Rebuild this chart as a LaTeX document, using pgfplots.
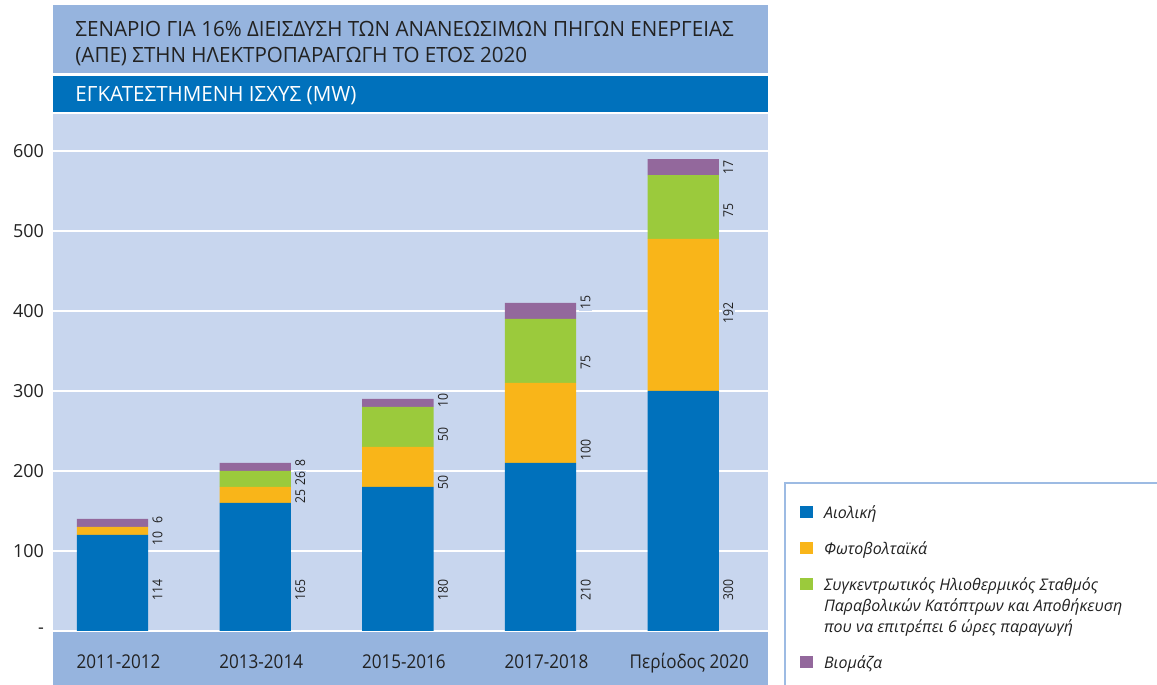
\documentclass[border=0pt]{standalone}
\usepackage{fontspec}
\setmainfont{Open Sans}
\newfontfamily\condfont{Open Sans}[FakeStretch=0.9]
\newfontfamily\titlefont{Open Sans}[FakeStretch=0.98]
\usepackage{pgfplots}
\pgfplotsset{compat=1.18}
\definecolor{cblue}{HTML}{0071BC}
\definecolor{corange}{HTML}{F9B519}
\definecolor{cgreen}{HTML}{9BCA3C}
\definecolor{cpurple}{HTML}{93689C}
\definecolor{plotbg}{HTML}{C8D6EE}
\definecolor{bandbg}{HTML}{96B4DE}
\definecolor{legline}{HTML}{9DBBE3}
\definecolor{txt}{HTML}{222222}
\pgfplotsset{sqlegend/.style={legend image code/.code={\fill[##1] (0pt,0pt) rectangle (6.5pt,6pt);}}}
\begin{document}
\begin{tikzpicture}[x=0.5pt,y=0.5pt]
\fill[white] (0,0) rectangle (1157,685);
\path[use as bounding box] (0,0) rectangle (1157,685);
% title boxes
\fill[bandbg] (53,612) rectangle (768,680);
\fill[cblue] (53,573) rectangle (768,609);
\node[anchor=base west, inner sep=0pt, text=txt] at (75,648) {\titlefont\fontsize{10.5}{12}\selectfont ΣΕΝΑΡΙΟ ΓΙΑ 16\% ΔΙΕΙΣΔΥΣΗ ΤΩΝ ΑΝΑΝΕΩΣΙΜΩΝ ΠΗΓΩΝ ΕΝΕΡΓΕΙΑΣ};
\node[anchor=base west, inner sep=0pt, text=txt] at (75,622) {\titlefont\fontsize{10.5}{12}\selectfont (ΑΠΕ) ΣΤΗΝ ΗΛΕΚΤΡΟΠΑΡΑΓΩΓΗ ΤΟ ΕΤΟΣ 2020};
\node[anchor=base west, inner sep=0pt, text=white] at (75,583) {\titlefont\fontsize{10.5}{12}\selectfont ΕΓΚΑΤΕΣΤΗΜΕΝΗ ΙΣΧΥΣ (MW)};
% category band
\fill[bandbg] (53,0) rectangle (768,54);
\begin{axis}[
  at={(26.5pt,27pt)}, anchor=south west,
  width=357.5pt, height=258.5pt, scale only axis,
  xmin=-0.417, xmax=4.594, ymin=0, ymax=646.25,
  ybar stacked, bar width=0.5,
  sqlegend,
  axis background/.style={fill=plotbg},
  axis line style={draw=none},
  major tick length=0pt,
  ymajorgrids, grid style={white, line width=1pt},
  ytick={0,100,...,600}, yticklabels={-,100,200,300,400,500,600},
  xtick={0,1,2,3,4},
  xticklabels={2011-2012,2013-2014,2015-2016,2017-2018,Περίοδος 2020},
  /pgf/number format/assume math mode=true,
  yticklabel style={font=\fontsize{9}{10}\selectfont, text=txt, xshift=-1pt},
  xticklabel style={font=\condfont\fontsize{9.5}{11}\selectfont, text=txt, anchor=base, yshift=-19pt, xshift=3pt},
  legend cell align=left,
  legend style={at={(1.0448,0.247)}, anchor=north west, draw=none, fill=none,
    inner sep=0pt, outer sep=0pt, row sep=7.5pt,
    font=\fontsize{8}{10.5}\selectfont\itshape, text=txt,
    cells={anchor=base west}, nodes={inner sep=0pt, anchor=base west, text height=7.35pt, text depth=3.15pt},
    /tikz/every odd column/.append style={column sep=5.5pt}},
]
\addplot[fill=cblue, draw=none, sqlegend] coordinates {(0,120) (1,160) (2,180) (3,210) (4,300)};
\addlegendentry{Αιολική}
\addplot[fill=corange, draw=none, sqlegend] coordinates {(0,10) (1,20) (2,50) (3,100) (4,190)};
\addlegendentry{Φωτοβολταϊκά}
\addplot[fill=cgreen, draw=none, sqlegend] coordinates {(0,0) (1,20) (2,50) (3,80) (4,80)};
\addlegendentry[text depth=24.15pt]{\begin{tabular}[t]{@{}l@{}}Συγκεντρωτικός Ηλιοθερμικός Σταθμός\\Παραβολικών Κατόπτρων και Αποθήκευση\\που να επιτρέπει 6 ώρες παραγωγή\end{tabular}}
\addplot[fill=cpurple, draw=none, sqlegend] coordinates {(0,10) (1,10) (2,10) (3,20) (4,20)};
\addlegendentry{Βιομάζα}
\end{axis}
\begin{axis}[
  at={(26.5pt,27pt)}, anchor=south west,
  width=357.5pt, height=258.5pt, scale only axis,
  xmin=-0.417, xmax=4.594, ymin=0, ymax=646.25,
  hide axis, clip=false,
]
\addplot[draw=none, mark=none, nodes near coords, point meta=explicit symbolic,
  nodes near coords style={rotate=90, anchor=north, font=\condfont\fontsize{6.8}{8}\selectfont,
    fill=plotbg, inner sep=0.6pt, text=txt}]
  table[meta=lab] {
x y lab
0.27 51 114
0.27 116 10
0.27 139 6
1.27 51 165
1.27 168 25
1.27 190 26
1.27 210 8
2.27 51 180
2.27 186 50
2.27 245 50
2.27 288 10
3.27 51 210
3.27 226 100
3.27 335 75
3.27 410 15
4.27 51 300
4.27 397 192
4.27 526 75
4.27 579 17
};
\end{axis}
% legend frame
\draw[legline, line width=1.2pt] (785,0) -- (785,202) -- (1157,202);
\end{tikzpicture}
\end{document}
